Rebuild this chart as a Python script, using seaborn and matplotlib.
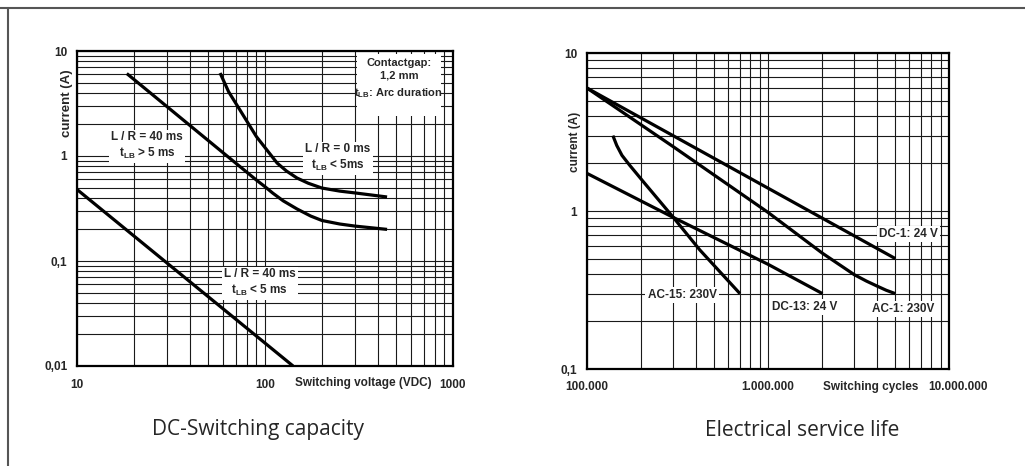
import matplotlib
matplotlib.use("Agg")
import matplotlib.pyplot as plt
import seaborn as sns
import numpy as np
from matplotlib.ticker import LogLocator, NullFormatter
from matplotlib.patches import Rectangle
from matplotlib.lines import Line2D
from matplotlib.transforms import offset_copy

# ---------------------------------------------------------
# Data
# ---------------------------------------------------------
# DC-Switching capacity: voltage (VDC) -> current (A)
volt_lr40_long = [18.4, 60, 90, 100, 110, 125, 148, 175, 201, 250, 301, 446]
amp_lr40_long = [6.1, 1.07, 0.59, 0.51, 0.443, 0.374, 0.313, 0.268, 0.243, 0.225, 0.215, 0.20]
volt_lr0 = [57.7, 64, 73.6, 90, 116, 130, 148, 170, 201, 250, 301, 446]
amp_lr0 = [6.17, 4.1, 2.74, 1.53, 0.857, 0.72, 0.617, 0.55, 0.495, 0.463, 0.445, 0.407]
volt_lr40_short = [10, 141]
amp_lr40_short = [0.48, 0.01]

# Electrical service life: switching cycles -> current (A)
cycles_dc1 = [1e5, 5.05e6]
amp_dc1 = [6.0, 0.50]
cycles_ac1 = [1e5, 3e5, 1e6, 2e6, 3e6, 3.5e6, 4e6, 4.5e6, 5.05e6]
amp_ac1 = [6.0, 2.55, 0.98, 0.54, 0.395, 0.36, 0.335, 0.315, 0.30]
cycles_ac15 = [1.39e5, 1.46e5, 1.56e5, 1.72e5, 2.05e5, 3.0e5, 4.2e5, 7.0e5]
amp_ac15 = [3.0, 2.6, 2.25, 1.95, 1.53, 0.91, 0.567, 0.30]
cycles_dc13 = [1e5, 3e5, 1e6, 2e6]
amp_dc13 = [1.73, 0.91, 0.46, 0.30]

# Tick values and labels (German number format)
volt_ticks = [10, 100, 1000]
volt_tick_labels = ["10", "100", "1000"]
amp_ticks_dc = [0.01, 0.1, 1, 10]
amp_tick_labels_dc = ["0,01", "0,1", "1", "10"]
cycle_ticks = [1e5, 1e6, 1e7]
cycle_tick_labels = ["100.000", "1.000.000", "10.000.000"]
amp_ticks_life = [0.1, 1, 10]
amp_tick_labels_life = ["0,1", "1", "10"]

sns.set_style("white")
plt.rcParams["font.family"] = ["Liberation Sans", "DejaVu Sans"]
plt.rcParams["font.weight"] = "bold"

FS = 8.5
BOX = dict(facecolor="white", edgecolor="none", pad=1.5)


def setup_log_axes(ax, xlim, ylim, xticks, xlabels, yticks, ylabels):
    ax.set_xscale("log")
    ax.set_yscale("log")
    ax.set_xlim(*xlim)
    ax.set_ylim(*ylim)
    ax.set_xticks(xticks)
    ax.set_xticklabels(xlabels)
    ax.set_yticks(yticks)
    ax.set_yticklabels(ylabels)
    for axis in (ax.xaxis, ax.yaxis):
        axis.set_minor_locator(LogLocator(base=10, subs=np.arange(2, 10)))
        axis.set_minor_formatter(NullFormatter())
    ax.tick_params(which="both", length=0, labelsize=FS)
    ax.tick_params(axis="x", pad=9)
    ax.tick_params(axis="y", pad=7)
    ax.grid(which="both", color="#1a1a1a", linewidth=0.8)
    ax.set_axisbelow(True)
    for sp in ax.spines.values():
        sp.set_visible(True)
        sp.set_color("black")
        sp.set_linewidth(1.6)
    ax.set_xlabel("")
    ax.set_ylabel("")


def curve(ax, x, y):
    sns.lineplot(x=x, y=y, ax=ax, color="black", linewidth=2.3, sort=False,
                 estimator=None, solid_joinstyle="round", solid_capstyle="butt")


fig = plt.figure(figsize=(10.25, 4.66), dpi=100)

# ---------------------------------------------------------
# Left: DC-Switching capacity
# ---------------------------------------------------------
ax1 = fig.add_axes([77 / 1025, 100 / 466, 376 / 1025, 315 / 466])
setup_log_axes(ax1, (10, 1000), (0.01, 10), volt_ticks, volt_tick_labels,
               amp_ticks_dc, amp_tick_labels_dc)
curve(ax1, volt_lr40_long, amp_lr40_long)
curve(ax1, volt_lr0, amp_lr0)
curve(ax1, volt_lr40_short, amp_lr40_short)

ax1.text(23.6, 1.24, "L / R = 40 ms\nt$_\\mathregular{LB}$ > 5 ms", ha="center", va="center",
         fontsize=FS, linespacing=1.25, bbox=BOX, zorder=5)
ax1.text(244, 0.96, "L / R = 0 ms\nt$_\\mathregular{LB}$ < 5ms", ha="center", va="center",
         fontsize=FS, linespacing=1.25, bbox=BOX, zorder=5)
ax1.text(94, 0.0616, "L / R = 40 ms\nt$_\\mathregular{LB}$ < 5 ms", ha="center", va="center",
         fontsize=FS, linespacing=1.25, bbox=BOX, zorder=5)

ax1.add_patch(Rectangle((0.745, 0.794), 0.223, 0.196, transform=ax1.transAxes,
                        facecolor="white", edgecolor="none", zorder=4))
ax1.text(0.856, 0.962, "Contactgap:", transform=ax1.transAxes, ha="center", va="center",
         fontsize=FS - 0.5, zorder=5)
ax1.text(0.856, 0.921, "1,2 mm", transform=ax1.transAxes, ha="center", va="center",
         fontsize=FS - 0.5, zorder=5)
ax1.text(0.856, 0.867, "t$_\\mathregular{LB}$: Arc duration", transform=ax1.transAxes,
         ha="center", va="center", fontsize=FS - 0.5, zorder=5)

ax1.text(-0.027, 0.835, "current (A)", transform=ax1.transAxes, rotation=90,
         ha="center", va="center", fontsize=9.5)
ax1.text(0.761, -0.054, "Switching voltage (VDC)", transform=ax1.transAxes,
         ha="center", va="center", fontsize=FS)

# ---------------------------------------------------------
# Right: Electrical service life
# ---------------------------------------------------------
ax2 = fig.add_axes([587 / 1025, 97 / 466, 362 / 1025, 316 / 466])
setup_log_axes(ax2, (1e5, 1e7), (0.1, 10), cycle_ticks, cycle_tick_labels,
               amp_ticks_life, amp_tick_labels_life)
curve(ax2, cycles_dc1, amp_dc1)
curve(ax2, cycles_ac1, amp_ac1)
curve(ax2, cycles_ac15, amp_ac15)
curve(ax2, cycles_dc13, amp_dc13)

# the last tick label sits a little right of its gridline in the original
last = ax2.get_xticklabels()[-1]
last.set_transform(offset_copy(last.get_transform(), fig=fig, x=9, y=0, units="dots"))

ax2.text(6.0e6, 0.714, "DC-1: 24 V", ha="center", va="center", fontsize=FS, bbox=BOX, zorder=5)
ax2.text(3.35e5, 0.294, "AC-15: 230V", ha="center", va="center", fontsize=FS, bbox=BOX, zorder=5)
ax2.text(1.6e6, 0.247, "DC-13: 24 V", ha="center", va="center", fontsize=FS, bbox=BOX, zorder=5)
ax2.text(5.57e6, 0.24, "AC-1: 230V", ha="center", va="center", fontsize=FS, bbox=BOX, zorder=5)

ax2.text(-0.033, 0.72, "current (A)", transform=ax2.transAxes, rotation=90,
         ha="center", va="center", fontsize=FS)
ax2.text(0.785, -0.057, "Switching cycles", transform=ax2.transAxes,
         ha="center", va="center", fontsize=FS)

# ---------------------------------------------------------
# Captions and page frame
# ---------------------------------------------------------
fig.text(258 / 1025, 1 - 430 / 466, "DC-Switching capacity", ha="center", va="center",
         fontsize=15, fontweight="normal", family=["Open Sans", "DejaVu Sans"])
fig.text(802 / 1025, 1 - 430 / 466, "Electrical service life", ha="center", va="center",
         fontsize=15, fontweight="normal", family=["Open Sans", "DejaVu Sans"])

fig.add_artist(Line2D([0, 1], [1 - 7.5 / 466] * 2, color="#555555", linewidth=1.5))
fig.add_artist(Line2D([7.5 / 1025] * 2, [0, 1 - 7.5 / 466], color="#555555", linewidth=1.5))

plt.savefig("out.png", dpi=100)
